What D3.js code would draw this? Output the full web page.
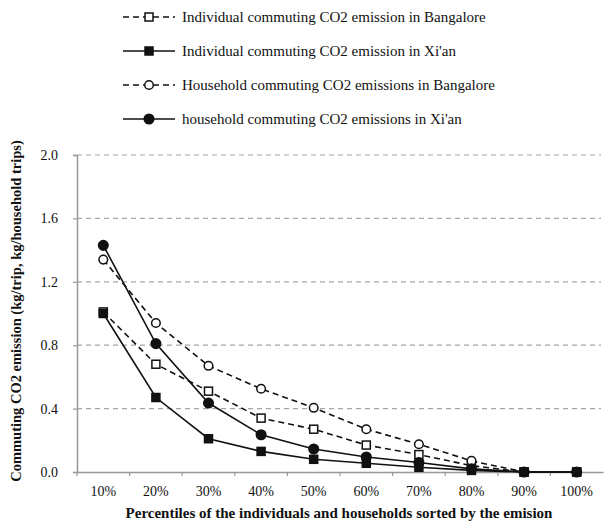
<!DOCTYPE html>
<html>
<head>
<meta charset="utf-8">
<script src="https://cdn.jsdelivr.net/npm/d3@7"></script>
<style>
body { margin: 0; background: #fff; }
text { font-family: "Liberation Serif", "Times New Roman", serif; fill: #111; }
</style>
</head>
<body>
<div id="chart"></div>
<script>
var percentiles = ["10%", "20%", "30%", "40%", "50%", "60%", "70%", "80%", "90%", "100%"];
var yTicks = [0, 0.4, 0.8, 1.2, 1.6, 2.0];

var indivBangalore = [1.01, 0.68, 0.51, 0.34, 0.27, 0.17, 0.11, 0.04, 0.0, 0.0];
var indivXian = [1.00, 0.47, 0.21, 0.13, 0.08, 0.055, 0.03, 0.01, 0.0, 0.0];
var houseBangalore = [1.34, 0.94, 0.67, 0.525, 0.405, 0.27, 0.175, 0.07, 0.0, 0.0];
var houseXian = [1.43, 0.81, 0.435, 0.235, 0.145, 0.095, 0.06, 0.02, 0.0, 0.0];

var seriesNames = [
	"Individual commuting CO2 emission in Bangalore",
	"Individual commuting CO2 emission in Xi'an",
	"Household commuting CO2 emissions in Bangalore",
	"household commuting CO2 emissions in Xi'an"
];

var series = [
	{ name: seriesNames[0], values: indivBangalore, dashed: true, shape: "square", filled: false },
	{ name: seriesNames[1], values: indivXian, dashed: false, shape: "square", filled: true },
	{ name: seriesNames[2], values: houseBangalore, dashed: true, shape: "circle", filled: false },
	{ name: seriesNames[3], values: houseXian, dashed: false, shape: "circle", filled: true }
];

var width = 614, height = 523;
var plotLeft = 77, plotRight = 603, plotTop = 155, plotBottom = 472;

var svg = d3.select("#chart").append("svg")
	.attr("width", width)
	.attr("height", height);

var x = d3.scaleBand().domain(percentiles).range([plotLeft, plotRight]);
var y = d3.scaleLinear().domain([0, 2]).range([plotBottom, plotTop]);

// grid
svg.append("g").selectAll("line")
	.data(yTicks.filter(d => d > 0))
	.enter().append("line")
	.attr("x1", plotLeft).attr("x2", 601)
	.attr("y1", d => y(d)).attr("y2", d => y(d))
	.style("stroke", "#a6a6a6")
	.style("stroke-width", 1.2)
	.style("stroke-dasharray", "5,4");

// y axis
var yAxis = svg.append("g")
	.attr("transform", "translate(" + plotLeft + ",0)")
	.call(d3.axisLeft(y).tickValues(yTicks).tickFormat(d3.format(".1f")).tickSize(4).tickPadding(15));
yAxis.select(".domain").style("stroke", "#999").style("stroke-width", 1.5);
yAxis.selectAll(".tick line").style("stroke", "#999").style("stroke-width", 1.2);
yAxis.selectAll("text").style("font-size", "14px").style("font-family", "Liberation Serif");

// x axis
var xAxis = svg.append("g")
	.attr("transform", "translate(0," + plotBottom + ")")
	.call(d3.axisBottom(x).tickSize(0).tickPadding(14));
xAxis.select(".domain").style("stroke", "#999").style("stroke-width", 1.5);
xAxis.selectAll("text").style("font-size", "14px").style("font-family", "Liberation Serif");
xAxis.selectAll(".sep")
	.data(percentiles)
	.enter().append("line")
	.attr("x1", d => x(d)).attr("x2", d => x(d))
	.attr("y1", 0).attr("y2", 4)
	.style("stroke", "#999").style("stroke-width", 1.2);

// axis titles
svg.append("text")
	.attr("x", 339).attr("y", 518)
	.attr("text-anchor", "middle")
	.style("font-size", "15px").style("font-weight", "bold")
	.text("Percentiles of the individuals and households sorted by the emision");

svg.append("text")
	.attr("transform", "translate(21," + 311 + ") rotate(-90)")
	.attr("text-anchor", "middle")
	.style("font-size", "14.5px").style("font-weight", "bold")
	.text("Commuting CO2 emission (kg/trip, kg/household trips)");

var cx = d => x(d) + x.bandwidth() / 2;

function drawMarker(g, s, px, py) {
	if (s.shape == "square") {
		g.append("rect")
			.attr("x", px - 4).attr("y", py - 4)
			.attr("width", 8).attr("height", 8)
			.style("fill", s.filled ? "#111" : "#fff")
			.style("stroke", "#111").style("stroke-width", 1.5);
	} else {
		g.append("circle")
			.attr("cx", px).attr("cy", py).attr("r", s.filled ? 4.8 : 4.3)
			.style("fill", s.filled ? "#111" : "#fff")
			.style("stroke", "#111").style("stroke-width", 1.5);
	}
}

var line = d3.line()
	.x((d, i) => cx(percentiles[i]))
	.y(d => y(d));

series.forEach(s => {
	var g = svg.append("g");
	g.append("path")
		.attr("d", line(s.values))
		.style("fill", "none")
		.style("stroke", "#111")
		.style("stroke-width", 1.6)
		.style("stroke-dasharray", s.dashed ? "6,4" : null);
	s.values.forEach((v, i) => drawMarker(g, s, cx(percentiles[i]), y(v)));
});

// legend
var legendY = [17, 51, 85, 119];
series.forEach((s, i) => {
	var g = svg.append("g");
	g.append("line")
		.attr("x1", 123).attr("x2", 175)
		.attr("y1", legendY[i]).attr("y2", legendY[i])
		.style("stroke", "#111").style("stroke-width", 1.6)
		.style("stroke-dasharray", s.dashed ? "6,4" : null);
	drawMarker(g, s, 149, legendY[i]);
	g.append("text")
		.attr("x", 182).attr("y", legendY[i]).attr("dy", "0.35em")
		.style("font-size", "15px")
		.text(s.name);
});
</script>
</body>
</html>
